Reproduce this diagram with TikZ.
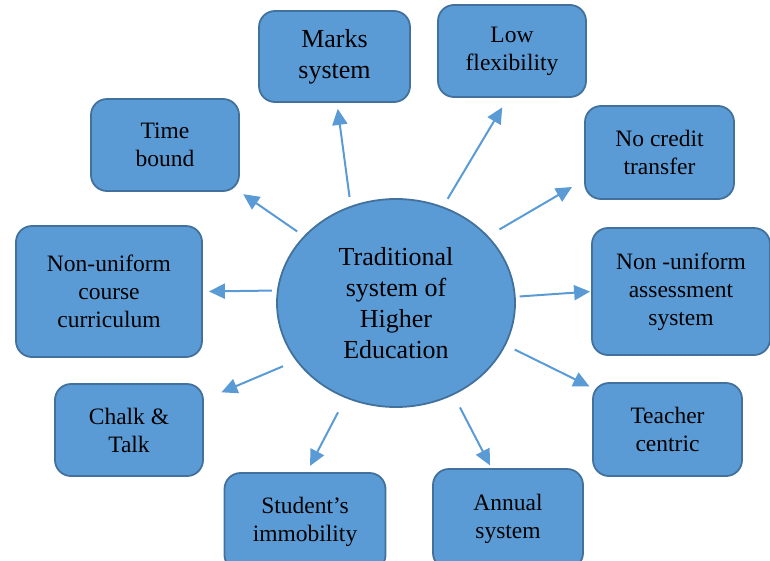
\documentclass[tikz,border=0pt]{standalone}
\usepackage{fontspec}
\setmainfont{Liberation Serif}
\usetikzlibrary{arrows.meta, shapes.geometric}
\definecolor{boxfill}{HTML}{5B9BD5}
\definecolor{boxline}{HTML}{41719C}
\begin{document}
\begin{tikzpicture}[x=1pt, y=-1pt, >={Triangle[length=16pt, width=15pt]},
    item/.style={draw=boxline, line width=1.8pt, fill=boxfill, rounded corners=16pt,
        minimum width=148pt, minimum height=92pt, align=center, inner sep=0pt,
        font=\fontsize{23.5}{28}\selectfont},
    hub/.style={ellipse, draw=boxline, line width=1.8pt, fill=boxfill,
        minimum width=238pt, minimum height=208pt, align=center, inner sep=0pt,
        font=\fontsize{26}{31}\selectfont},
    link/.style={->, draw=boxfill, line width=2pt}]
    \useasboundingbox (0,0) rectangle (770,560);

    \node[hub] (hub) at (396,303) {Traditional\\system of\\Higher\\Education};

    \node[item, minimum width=151pt, minimum height=91pt, font=\fontsize{26}{31}\selectfont]
        (marks) at (334.5,56.5) {Marks\\system};
    \node[item] (low) at (512,51) {Low\\flexibility};
    \node[item] (time) at (165,145) {Time\\bound};
    \node[item, minimum width=149pt, minimum height=93pt] (credit) at (659.5,152.5) {No credit\\transfer};
    \node[item, minimum width=186pt, minimum height=131pt] (course) at (109,291.5) {Non-uniform\\course\\curriculum};
    \node[item, minimum width=178pt, minimum height=127pt] (assess) at (681,291.5) {Non -uniform\\assessment\\system};
    \node[item] (chalk) at (129,430) {Chalk \&\\Talk};
    \node[item, minimum width=149pt, minimum height=93pt] (teacher) at (667.5,429.5) {Teacher\\centric};
    \node[item, minimum width=161pt, minimum height=98pt] (student) at (305,522) {Student’s\\immobility};
    \node[item, minimum width=150pt, minimum height=100pt] (annual) at (508,519) {Annual\\system};

    \draw[link, shorten <=9pt, shorten >=6pt] (hub.115) -- (marks.273);
    \draw[link, shorten <=9pt, shorten >=11pt] (hub.64) -- (low.265);
    \draw[link, shorten <=8pt, shorten >=4pt] (hub.144) -- (time.south east);
    \draw[link, shorten <=13pt, shorten >=14pt] (hub.36) -- (credit.200);
    \draw[link, shorten <=4pt, shorten >=1pt] (hub.3) -- (assess.west);
    \draw[link, shorten <=5pt, shorten >=6pt] (hub.174) -- (course.east);
    \draw[link, shorten <=14pt, shorten >=19pt] (hub.210) -- (chalk.22);
    \draw[link, shorten <=10pt, shorten >=3pt] (hub.-21) -- (teacher.151);
    \draw[link, shorten <=14pt, shorten >=3pt] (hub.-58) -- (annual.108);
    \draw[link, shorten <=16pt, shorten >=7pt] (hub.242) -- (student.88);
\end{tikzpicture}
\end{document}
